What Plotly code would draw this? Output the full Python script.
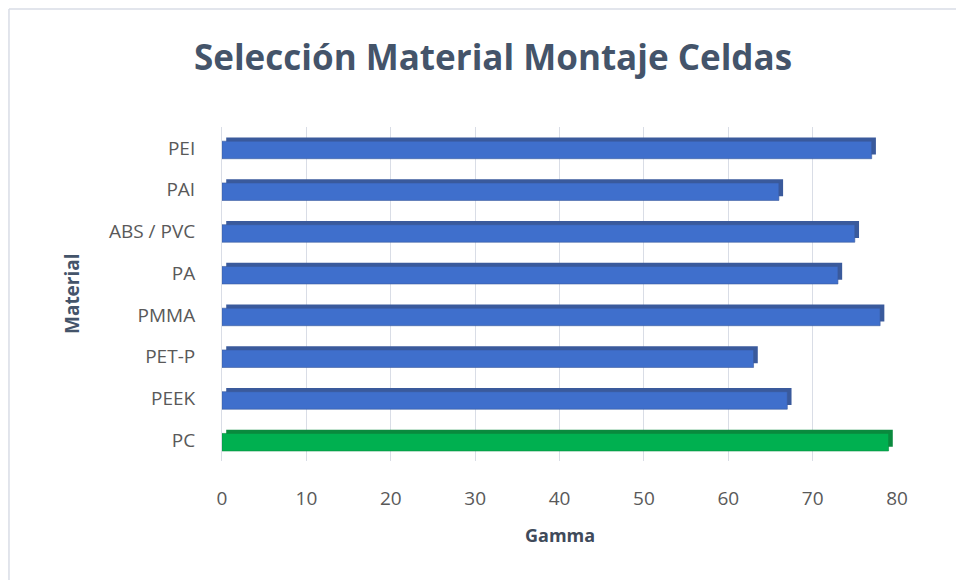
import plotly.graph_objects as go

categories = ["PC", "PEEK", "PET-P", "PMMA", "PA", "ABS / PVC", "PAI", "PEI"]
gamma = [79, 67, 63, 78, 73, 75, 66, 77]
front_colors = ["#00b050", "#3f6fcc", "#3f6fcc", "#3f6fcc", "#3f6fcc", "#3f6fcc", "#3f6fcc", "#3f6fcc"]
side_colors = ["#0a8a3e", "#3a5a9c", "#3a5a9c", "#3a5a9c", "#3a5a9c", "#3a5a9c", "#3a5a9c", "#3a5a9c"]
x_ticks = [0, 10, 20, 30, 40, 50, 60, 70, 80]

fig = go.Figure()
# depth (top / side faces)
fig.add_trace(go.Bar(
    y=categories, x=gamma, base=0.5, orientation="h",
    width=0.41, offset=-0.16,
    marker=dict(color=side_colors, line=dict(width=0)),
    hoverinfo="skip", showlegend=False,
))
# front faces
fig.add_trace(go.Bar(
    y=categories, x=gamma, orientation="h",
    width=0.42, offset=-0.26,
    marker=dict(color=front_colors, line=dict(color=side_colors, width=0.6)),
    showlegend=False,
))

fig.update_layout(
    width=956, height=580,
    margin=dict(l=222, r=59, t=127, b=119),
    paper_bgcolor="white", plot_bgcolor="white",
    barmode="overlay",
    title=dict(text="<b>Selección Material Montaje Celdas</b>", x=0.5157, xanchor="center",
               y=0.9, yanchor="middle",
               font=dict(family="Open Sans", size=35, color="#44546a")),
    font=dict(family="Open Sans", color="#595959"),
    xaxis=dict(range=[0, 80], tickvals=x_ticks, showgrid=True, gridcolor="#d9dde6", gridwidth=1,
               zeroline=False, showline=False, ticks="", ticklabelstandoff=24,
               tickfont=dict(size=19, color="#595959")),
    yaxis=dict(categoryorder="array", categoryarray=categories, showgrid=False,
               zeroline=False, showline=True, linecolor="#d9dde6", ticks="", ticklabelstandoff=22,
               tickfont=dict(size=19, color="#595959")),
    annotations=[
        dict(text="<b>Material</b>", xref="paper", yref="paper", x=-0.2222, y=0.5,
             textangle=-90, showarrow=False, xanchor="center", yanchor="middle",
             font=dict(family="Open Sans", size=19, color="#44546a")),
        dict(text="<b>Gamma</b>", xref="paper", yref="paper", x=0.5, y=-0.2216,
             showarrow=False, xanchor="center", yanchor="middle",
             font=dict(family="Open Sans", size=18, color="#404a5a")),
    ],
    shapes=[
        dict(type="line", xref="paper", yref="paper", x0=-0.3156, x1=1.2, y0=1.353, y1=1.353,
             line=dict(color="#d9dde6", width=1.5), layer="below"),
        dict(type="line", xref="paper", yref="paper", x0=-0.3156, x1=-0.3156, y0=-0.6, y1=1.353,
             line=dict(color="#d9dde6", width=1.5), layer="below"),
    ],
)

fig.write_html("out.html", config={"displayModeBar": False},
               post_script="document.body.style.margin='0';document.body.style.overflow='hidden';")
